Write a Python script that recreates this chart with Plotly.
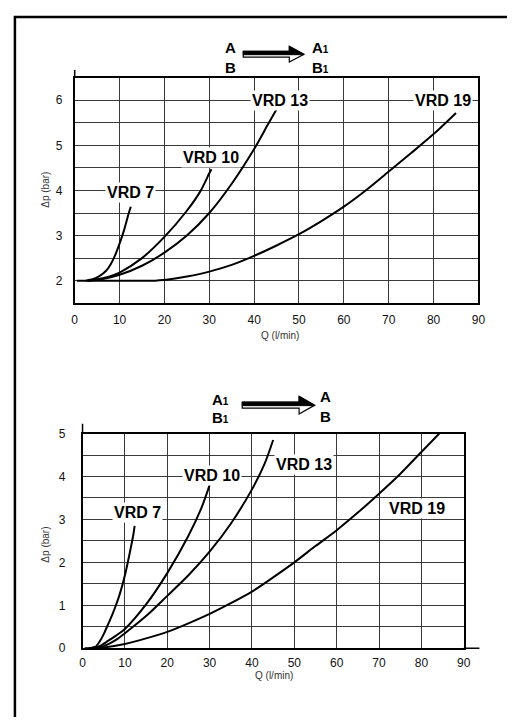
import plotly.graph_objects as go

W, H = 515, 725
M = 8  # default page body margin around the plot div
FW, FH = W - 2 * M, H - 2 * M

# ---------------- data: A -> A1 / B -> B1 (top chart) ----------------
top_q_vrd7 = [2.5, 4, 5.5, 7, 8, 9, 10, 11, 12, 12.5]
top_dp_vrd7 = [2.0, 2.03, 2.1, 2.22, 2.36, 2.56, 2.82, 3.12, 3.48, 3.64]

top_q_vrd10 = [3, 5, 8, 10, 15, 20, 25, 28, 30, 30.5]
top_dp_vrd10 = [2.0, 2.03, 2.1, 2.18, 2.5, 2.97, 3.55, 3.98, 4.38, 4.47]

top_q_vrd13 = [3, 6, 10, 15, 20, 25, 30, 35, 40, 43, 45]
top_dp_vrd13 = [2.0, 2.03, 2.13, 2.33, 2.62, 3.0, 3.5, 4.15, 4.92, 5.45, 5.8]

top_q_vrd19 = [0.5, 10, 18, 22, 25, 30, 35, 40, 45, 50, 55, 60, 65, 70, 75, 80, 85]
top_dp_vrd19 = [2.0, 2.0, 2.0, 2.04, 2.09, 2.2, 2.35, 2.55, 2.78, 3.03, 3.32, 3.64, 4.01,
                4.42, 4.83, 5.25, 5.72]

# ---------------- data: A1 -> A / B1 -> B (bottom chart) ----------------
bot_q_vrd7 = [1.5, 3, 4, 5, 6, 7, 8, 9, 10, 11, 12, 12.3]
bot_dp_vrd7 = [0.0, 0.03, 0.15, 0.33, 0.55, 0.78, 1.03, 1.33, 1.7, 2.15, 2.65, 2.85]

bot_q_vrd10 = [1.5, 4, 6, 8, 10, 15, 20, 25, 28, 30]
bot_dp_vrd10 = [0.0, 0.05, 0.17, 0.3, 0.45, 1.02, 1.75, 2.62, 3.25, 3.8]

bot_q_vrd13 = [1.5, 5, 8, 10, 15, 20, 25, 30, 35, 40, 43, 45]
bot_dp_vrd13 = [0.0, 0.05, 0.2, 0.35, 0.75, 1.22, 1.7, 2.25, 2.9, 3.7, 4.3, 4.85]

bot_q_vrd19 = [0.5, 5, 10, 15, 20, 25, 30, 35, 40, 45, 50, 55, 60, 65, 70, 75, 80, 85]
bot_dp_vrd19 = [0.0, 0.02, 0.1, 0.23, 0.38, 0.58, 0.8, 1.05, 1.32, 1.65, 2.0, 2.38, 2.75,
                3.16, 3.6, 4.06, 4.57, 5.08]

series_names = ["VRD 7", "VRD 10", "VRD 13", "VRD 19"]
x_ticks = [0, 10, 20, 30, 40, 50, 60, 70, 80, 90]
top_y_ticks = [2, 3, 4, 5, 6]
bot_y_ticks = [0, 1, 2, 3, 4, 5]
x_title = "Q (l/min)"
y_title = "Δp (bar)"


def px(x):
    return (x - M) / FW


def py(y):
    return 1 - (y - M) / FH


FONT = "Liberation Sans, Arial, Helvetica, sans-serif"
GRID = "#3a3a3a"

fig = go.Figure()

top_sets = [(top_q_vrd7, top_dp_vrd7), (top_q_vrd10, top_dp_vrd10),
            (top_q_vrd13, top_dp_vrd13), (top_q_vrd19, top_dp_vrd19)]
bot_sets = [(bot_q_vrd7, bot_dp_vrd7), (bot_q_vrd10, bot_dp_vrd10),
            (bot_q_vrd13, bot_dp_vrd13), (bot_q_vrd19, bot_dp_vrd19)]

for name, (q, dp) in zip(series_names, top_sets):
    fig.add_trace(go.Scatter(x=q, y=dp, mode="lines", name=name, xaxis="x", yaxis="y",
                             line=dict(color="black", width=2, shape="spline", smoothing=0.8),
                             showlegend=False))
for name, (q, dp) in zip(series_names, bot_sets):
    fig.add_trace(go.Scatter(x=q, y=dp, mode="lines", name=name, xaxis="x2", yaxis="y2",
                             line=dict(color="black", width=2, shape="spline", smoothing=0.8),
                             showlegend=False))

tickfont = dict(family=FONT, size=12, color="#111")
common_x = dict(range=[0, 90], tickvals=x_ticks, showgrid=True, gridcolor=GRID, gridwidth=1,
                showline=True, linecolor="black", linewidth=1.5, mirror=True,
                ticks="outside", tickcolor="rgba(0,0,0,0)", zeroline=False,
                tickfont=tickfont, fixedrange=True)
common_y = dict(showgrid=True, gridcolor=GRID, gridwidth=1, showline=True, linecolor="black",
                linewidth=1.5, mirror=True, ticks="outside", tickcolor="rgba(0,0,0,0)",
                zeroline=False, tickfont=tickfont, fixedrange=True,
                minor=dict(dtick=0.5, tick0=0, showgrid=True, gridcolor=GRID, gridwidth=1))

fig.update_layout(
    width=FW, height=FH,
    margin=dict(l=0, r=0, t=0, b=0),
    paper_bgcolor="white", plot_bgcolor="white",
    xaxis=dict(domain=[px(73), px(485)], anchor="y", ticklen=5, **common_x),
    yaxis=dict(domain=[py(302), py(72)], anchor="x", range=[1.5, 6.5], tickvals=top_y_ticks,
               ticklen=8, **common_y),
    xaxis2=dict(domain=[px(81), px(470)], anchor="y2", ticklen=3, **common_x),
    yaxis2=dict(domain=[py(654), py(435)], anchor="x2", range=[0, 5], tickvals=bot_y_ticks,
                ticklen=13, **common_y),
)

shapes = []
# outer frame (cut off at right and bottom)
shapes.append(dict(type="rect", xref="paper", yref="paper", x0=px(12), x1=px(540),
                   y0=py(760), y1=py(10), line=dict(color="black", width=2.5)))
# axis extensions
shapes.append(dict(type="line", xref="paper", yref="paper", x0=px(73), x1=px(73),
                   y0=py(72), y1=py(64), line=dict(color="black", width=1.5)))
shapes.append(dict(type="line", xref="paper", yref="paper", x0=px(81), x1=px(81),
                   y0=py(435), y1=py(425), line=dict(color="black", width=1.5)))
shapes.append(dict(type="line", xref="paper", yref="paper", x0=px(470), x1=px(486),
                   y0=py(654), y1=py(654), line=dict(color="black", width=1.5)))


def arrow(x0, hx, x1, yc, hh=8):
    """hollow flow arrow whose upper half is filled black"""
    out = []
    # hollow outline (shaft + head)
    outline = "M {a},{t} L {h},{t} L {h},{ht} L {e},{c} L {h},{hb} L {h},{b} L {a},{b} Z".format(
        a=px(x0), h=px(hx), e=px(x1), t=py(yc - 3), b=py(yc + 3),
        ht=py(yc - hh), hb=py(yc + hh), c=py(yc))
    out.append(dict(type="path", xref="paper", yref="paper", path=outline,
                    fillcolor="white", line=dict(color="black", width=1.2)))
    # filled upper part
    upper = "M {a},{t} L {h},{t} L {h},{ht} L {e},{c} L {a},{c} Z".format(
        a=px(x0), h=px(hx), e=px(x1), t=py(yc - 3), ht=py(yc - hh), c=py(yc + 0.5))
    out.append(dict(type="path", xref="paper", yref="paper", path=upper,
                    fillcolor="black", line=dict(color="black", width=1)))
    return out


shapes += arrow(245, 292, 307, 48)
shapes += arrow(244, 302, 318, 406, hh=9)
fig.update_layout(shapes=shapes)

ann = []


def text(x, y, s, size=14, bold=True, xanchor="center", bg=None, angle=0, color="black"):
    d = dict(xref="paper", yref="paper", x=px(x), y=py(y), text=s, showarrow=False,
             xanchor=xanchor, yanchor="middle", textangle=angle,
             font=dict(family=FONT, size=size, color=color, weight="bold" if bold else "normal"))
    if bg:
        d.update(bgcolor=bg, borderpad=1)
    ann.append(d)


one = "<span style='font-size:10px'>1</span>"
# top header
text(232, 41, "A", size=15)
text(232, 62, "B", size=15)
text(313, 41, "A" + one, size=15, xanchor="left")
text(313, 62, "B" + one, size=15, xanchor="left")
# bottom header
text(211, 400, "A" + one, size=15, xanchor="left")
text(211, 419, "B" + one, size=15, xanchor="left")
text(329, 397, "A", size=15)
text(329, 418, "B", size=15)

# curve labels, top
top_label_pos = [(130, 189), (212, 153), (283, 95), (449, 95)]
for name, (x, y) in zip(series_names, top_label_pos):
    text(x, y, name, size=16, bg="white")
# curve labels, bottom
bot_label_pos = [(137, 516), (213, 478), (307, 467), (422, 511)]
for name, (x, y) in zip(series_names, bot_label_pos):
    text(x, y, name, size=16, bg="white")

# axis titles
text(282, 335, x_title, size=10, bold=False, color="#333")
text(276, 682, x_title, size=10, bold=False, color="#333")
text(43, 186, y_title, size=10, bold=False, angle=-90, color="#333")
text(43, 548, y_title, size=10, bold=False, angle=-90, color="#333")

fig.update_layout(annotations=ann)
fig.write_html("out.html")
